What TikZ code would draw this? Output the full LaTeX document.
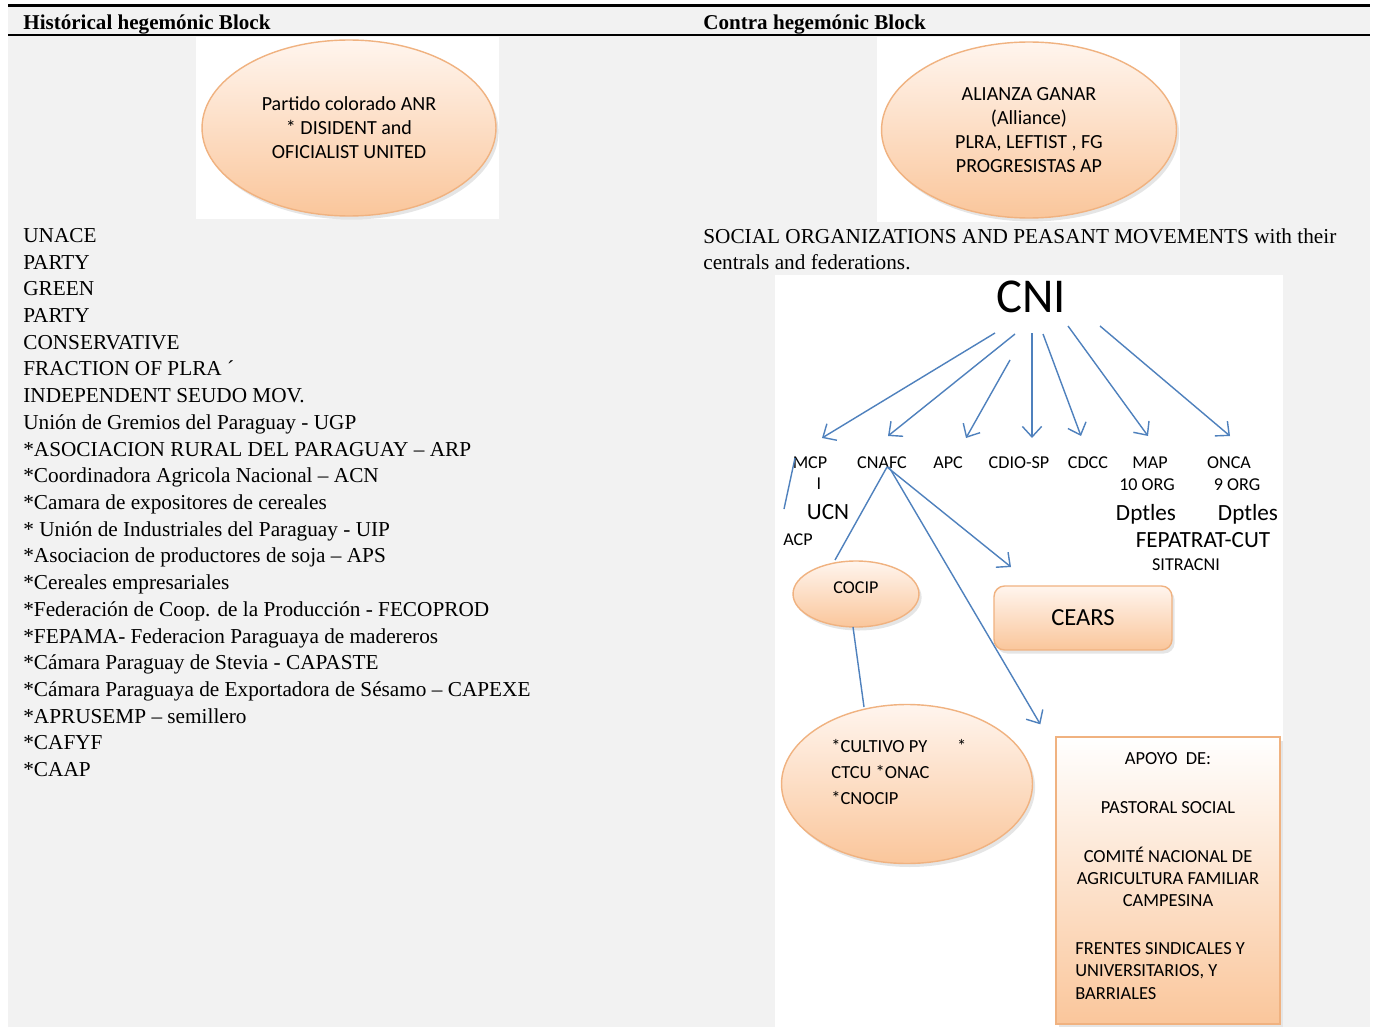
\documentclass[tikz,border=0pt]{standalone}
\usepackage{fontspec}
\setmainfont{Liberation Serif}
\newfontfamily\calib{Carlito}
\usetikzlibrary{shapes.geometric,shadows,calc,arrows.meta}
\definecolor{pagegray}{RGB}{242,242,242}
\definecolor{linkblue}{RGB}{79,129,189}
\definecolor{peachline}{RGB}{240,178,128}
\definecolor{peachtop}{RGB}{255,245,238}
\definecolor{peachbot}{RGB}{250,198,155}
\begin{document}
\begin{tikzpicture}[x=0.02cm,y=-0.02cm,
  party/.style={ellipse, draw=peachline, line width=0.8pt, top color=peachtop, bottom color=peachbot,
    drop shadow={opacity=0.2,shadow xshift=1.5pt,shadow yshift=-2pt}, align=center, inner sep=0pt,
    font=\calib\fontsize{11.4}{13.7}\selectfont},
  orgbox/.style={rectangle, draw=peachline, line width=0.8pt, top color=peachtop, bottom color=peachbot,
    drop shadow={opacity=0.2,shadow xshift=1.5pt,shadow yshift=-2pt}, inner sep=0pt},
  org/.style={inner sep=0pt, text depth=0pt, font=\calib\fontsize{10.3}{12}\selectfont},
  bigorg/.style={org, font=\calib\fontsize{13.2}{15}\selectfont},
  note/.style={inner sep=0pt, font=\calib\fontsize{10.5}{12.8}\selectfont},
  listtxt/.style={inner sep=0pt, align=left, anchor=north west, font=\fontsize{12.1}{15.2}\selectfont},
  head/.style={inner sep=0pt, anchor=base west, font=\bfseries\fontsize{12}{14}\selectfont},
  link/.style={draw=linkblue, line width=0.8pt},
  arr/.style={link, -{Straight Barb[length=6pt,width=11pt]}}]
\useasboundingbox (0,0) rectangle (1376,1027);
% page and table rules
\fill[pagegray] (8,5) rectangle (1370,1027);
\draw[line width=1.7pt] (8,5.5) -- (1370,5.5);
\draw[line width=1.1pt] (8,35) -- (1370,35);
\fill[white] (196,37) rectangle (499,219);
\fill[white] (877,37) rectangle (1180,222);
\fill[white] (775,275) rectangle (1283,1027);
% headers
\node[head] (hhead) at (23,30) {Histórical hegemónic Block};
\node[head] (chead) at (703,30) {Contra hegemónic Block};
% parties
\node[party, minimum width=5.88cm, minimum height=3.52cm] (anr) at (349,128)
  {Partido colorado ANR\\* DISIDENT and\\OFICIALIST UNITED};
\node[party, minimum width=5.9cm, minimum height=3.52cm] (ganar) at (1029,130)
  {ALIANZA GANAR\\(Alliance)\\PLRA, LEFTIST , FG\\PROGRESISTAS AP};
% left list
\node[listtxt] (hlist) at (23,228) {UNACE\\PARTY\\GREEN\\PARTY\\CONSERVATIVE\\FRACTION OF PLRA ´\\
  INDEPENDENT SEUDO MOV.\\Unión de Gremios del Paraguay - UGP\\*ASOCIACION RURAL DEL PARAGUAY – ARP\\
  *Coordinadora Agricola Nacional – ACN\\*Camara de expositores de cereales\\
  * Unión de Industriales del Paraguay - UIP\\*Asociacion de productores de soja – APS\\
  *Cereales empresariales\\*Federación de Coop. de la Producción - FECOPROD\\
  *FEPAMA- Federacion Paraguaya de madereros\\*Cámara Paraguay de Stevia - CAPASTE\\
  *Cámara Paraguaya de Exportadora de Sésamo – CAPEXE\\*APRUSEMP – semillero\\*CAFYF\\*CAAP};
\node[listtxt] (clist) at (703,228) {SOCIAL ORGANIZATIONS AND PEASANT MOVEMENTS with their\\centrals and federations.};
% CNI tree
\node[org, font=\calib\fontsize{27.7}{30}\selectfont] (cni) at (1031,297) {CNI};
\node[org] (mcp) at (810,463) {MCP};
\node[org] (cnafc) at (882,463) {CNAFC};
\node[org] (apc) at (948,463) {APC};
\node[org] (cdio) at (1019,463) {CDIO-SP};
\node[org] (cdcc) at (1088,463) {CDCC};
\node[org] (map) at (1150,463) {MAP};
\node[org] (onca) at (1229,463) {ONCA};
\node[org] (mcpi) at (819,484) {I};
\node[bigorg] (ucn) at (828,512) {UCN};
\node[org] (acp) at (798,540) {ACP};
\node[org] (maporg) at (1147,485) {10 ORG};
\node[org] (oncaorg) at (1237,485) {9 ORG};
\node[bigorg] (mapdp) at (1146,512) {Dptles};
\node[bigorg] (oncadp) at (1248,512) {Dptles};
\node[bigorg] (fepatrat) at (1203,540) {FEPATRAT-CUT};
\node[org] (sitracni) at (1186,565) {SITRACNI};
\draw[arr] ($(cni)+(-36,36)$) -- ($(mcp)+(12,-25)$);
\draw[arr] ($(cni)+(-16,37)$) -- ($(cnafc)+(6,-27)$);
\draw[arr] ($(cni)+(-21,63)$) -- ($(apc)+(18,-25)$);
\draw[arr] ($(cni)+(1,36)$) -- ($(cdio)+(13,-25)$);
\draw[arr] ($(cni)+(12,37)$) -- ($(cdcc)+(-7,-27)$);
\draw[arr] ($(cni)+(37,29)$) -- ($(map)+(-2,-27)$);
\draw[arr] ($(cni)+(69,29)$) -- ($(onca)+(1,-27)$);
\draw[link] ($(mcp)+(-15,-5)$) -- ($(acp)+(-14,-31)$);
% second level
\node[party, minimum width=2.52cm, minimum height=1.32cm, text depth=7pt,
  font=\calib\fontsize{10.3}{12}\selectfont] (cocip) at (856,594) {COCIP};
\node[party, minimum width=5.02cm, minimum height=3.18cm] (cultivo) at (907,784) {};
\node[note, align=left, anchor=north west, font=\calib\fontsize{10.5}{14.7}\selectfont] (cultxt) at (831,739)
  {*CULTIVO PY\hspace{17pt}*\\CTCU *ONAC\\*CNOCIP};
\node[orgbox, rounded corners=6pt, minimum width=3.56cm, minimum height=1.28cm,
  font=\calib\fontsize{14}{16}\selectfont] (cears) at (1083,618) {CEARS};
\node[orgbox, top color=white, minimum width=4.48cm, minimum height=5.74cm] (apoyo) at (1168,880.5) {};
\node[note, align=center, anchor=north] (apoyotxt) at (1168,752)
  {APOYO~ DE:\\[15pt]PASTORAL SOCIAL\\[15pt]COMITÉ NACIONAL DE\\AGRICULTURA FAMILIAR\\CAMPESINA};
\node[note, align=left, anchor=north west] (frentes) at (1075,942)
  {FRENTES SINDICALES Y\\UNIVERSITARIOS, Y\\BARRIALES};
\draw[link] ($(cnafc)+(5,4)$) -- ($(cocip)+(-21,-34)$);
\draw[arr] ($(cnafc)+(5,4)$) -- ($(cears)+(-72,-51)$);
\draw[arr] ($(cnafc)+(7,4)$) -- ($(apoyo.north west)+(-15,-12)$);
\draw[link] ($(cocip)+(-3,33)$) -- ($(cultivo)+(-43,-77)$);
\end{tikzpicture}
\end{document}
